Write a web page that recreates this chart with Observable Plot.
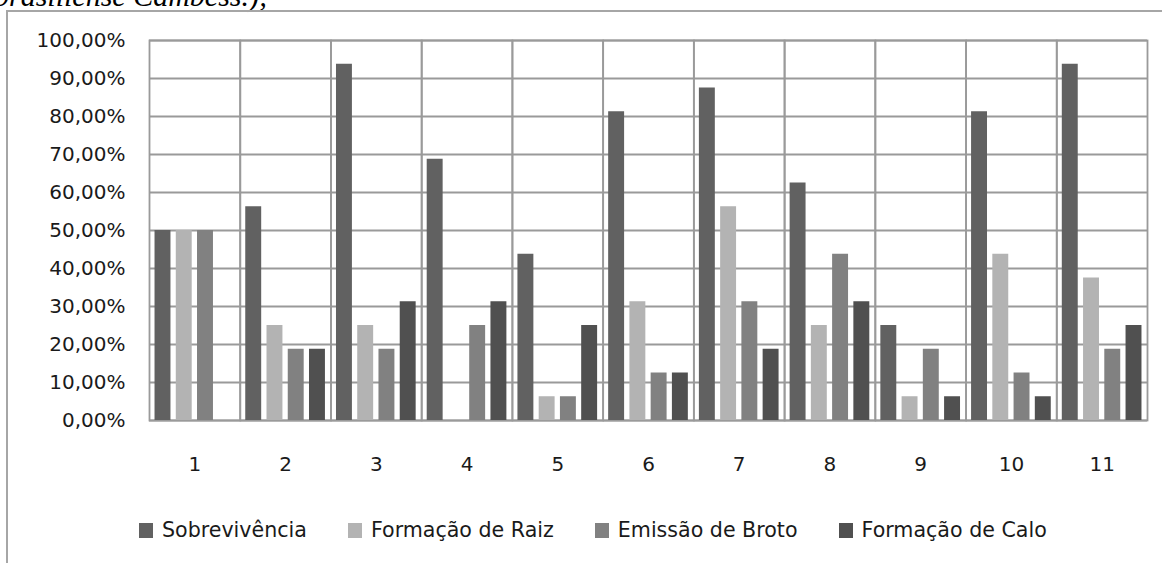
<!DOCTYPE html>
<html>
<head>
<meta charset="utf-8">
<script src="https://cdn.jsdelivr.net/npm/d3@7"></script>
<script src="https://cdn.jsdelivr.net/npm/@observablehq/plot@0.6"></script>
<style>
  body { margin: 0; background: #fff; }
  #page { position: relative; width: 1162px; height: 563px; overflow: hidden; font-family: "DejaVu Sans", sans-serif; }
  #above { position: absolute; left: -6px; top: -19px; font: italic 30px "Liberation Serif", serif; line-height: 30px; white-space: nowrap; color: #000; }
  #box { position: absolute; left: 6px; top: 10px; width: 1300px; height: 700px; border-left: 2px solid #a6a6a6; border-top: 2px solid #a6a6a6; }
  #chart { position: absolute; left: 0; top: 0; }
  #legend { position: absolute; left: 139px; top: 518px; display: flex; align-items: center; font-size: 20.6px; color: #1a1a1a; }
  .item { display: flex; align-items: center; margin-right: 41px; }
  .sw { width: 14px; height: 15px; margin-right: 9px; }
</style>
</head>
<body>
<div id="page">
  <div id="above">brasiliense Cambess.);</div>
  <div id="box"></div>
  <div id="chart"></div>
  <div id="legend"></div>
</div>
<script>
// Tratamentos (eixo x) e séries
const groups = ["1", "2", "3", "4", "5", "6", "7", "8", "9", "10", "11"];
const seriesNames = ["Sobrevivência", "Formação de Raiz", "Emissão de Broto", "Formação de Calo"];
const seriesColors = ["#616161", "#b3b3b3", "#818181", "#505050"];

// Percentuais por tratamento
const sobrevivencia = [50, 56.25, 93.75, 68.75, 43.75, 81.25, 87.5, 62.5, 25, 81.25, 93.75];
const formacaoRaiz = [50, 25, 25, 0, 6.25, 31.25, 56.25, 25, 6.25, 43.75, 37.5];
const emissaoBroto = [50, 18.75, 18.75, 25, 6.25, 12.5, 31.25, 43.75, 18.75, 12.5, 18.75];
const formacaoCalo = [0, 18.75, 31.25, 31.25, 25, 12.5, 18.75, 31.25, 6.25, 6.25, 25];

const yTicks = [0, 10, 20, 30, 40, 50, 60, 70, 80, 90, 100];

const seriesValues = [sobrevivencia, formacaoRaiz, emissaoBroto, formacaoCalo];
const rows = [];
groups.forEach((g, i) => {
  seriesNames.forEach((s, j) => rows.push({ group: g, serie: s, value: seriesValues[j][i] }));
});

const pct = d => d.toFixed(2).replace(".", ",") + "%";
const gridColor = "#9a9a9a";

const chart = Plot.plot({
  width: 1162,
  height: 480,
  marginLeft: 149,
  marginRight: 15,
  marginTop: 40,
  marginBottom: 60,
  style: { fontFamily: "DejaVu Sans, sans-serif", fontSize: "20px", color: "#1a1a1a", background: "transparent" },
  fx: { domain: groups, padding: 0, round: false, label: null },
  x: { domain: seriesNames, paddingInner: 0.25, paddingOuter: 0.26, round: false, axis: null },
  y: { domain: [0, 100], label: null },
  color: { domain: seriesNames, range: seriesColors },
  marks: [
    Plot.gridY(yTicks, { stroke: gridColor, strokeOpacity: 1, strokeWidth: 1.8 }),
    Plot.frame({ stroke: gridColor, strokeWidth: 1.8 }),
    Plot.barY(rows, { fx: "group", x: "serie", y: "value", fill: "serie" }),
    Plot.axisY(yTicks, { tickSize: 0, tickPadding: 24, tickFormat: pct, label: null }),
    Plot.axisFx({ anchor: "bottom", tickSize: 0, tickPadding: 36, label: null })
  ]
});
document.getElementById("chart").appendChild(chart);

// Legenda
const legend = document.getElementById("legend");
seriesNames.forEach((s, j) => {
  const item = document.createElement("div");
  item.className = "item";
  const sw = document.createElement("div");
  sw.className = "sw";
  sw.style.background = seriesColors[j];
  const label = document.createElement("span");
  label.textContent = s;
  item.appendChild(sw);
  item.appendChild(label);
  legend.appendChild(item);
});
</script>
</body>
</html>
